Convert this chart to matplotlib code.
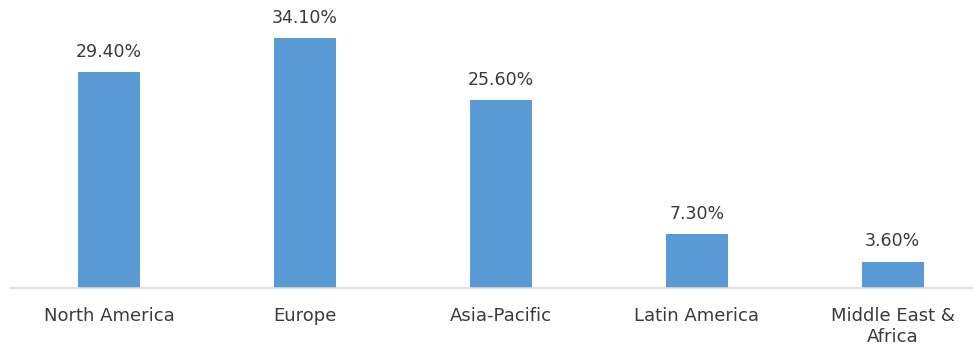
import matplotlib
matplotlib.use("Agg")
import matplotlib.pyplot as plt

regions = ["North America", "Europe", "Asia-Pacific", "Latin America", "Middle East &\nAfrica"]
shares = [29.4, 34.1, 25.6, 7.3, 3.6]

BAR_COLOR = "#5B9BD5"
TEXT_COLOR = "#3A3A3A"

fig = plt.figure(figsize=(9.73, 3.47), dpi=100)
ax = fig.add_axes([10 / 973, 59 / 347, 963 / 973, 278.6 / 347])

x = list(range(len(regions)))
bars = ax.bar(x, shares, width=0.316, color=BAR_COLOR, zorder=2)

for rect, v in zip(bars, shares):
    ax.annotate(f"{v:.2f}%", (rect.get_x() + rect.get_width() / 2, rect.get_height()),
                xytext=(0, 8), textcoords="offset points", ha="center", va="bottom",
                fontsize=12.5, color=TEXT_COLOR)

ax.set_xlim(-0.505, 4.41)
ax.set_ylim(0, 38)
ax.set_xticks(x)
ax.set_xticklabels(regions, fontsize=13, color=TEXT_COLOR, linespacing=1.15)
ax.tick_params(axis="x", length=0, pad=14)
ax.set_yticks([])

for side in ["top", "right", "left"]:
    ax.spines[side].set_visible(False)
ax.spines["bottom"].set_color("#D9D9D9")
ax.spines["bottom"].set_linewidth(1.2)

fig.savefig("out.png", dpi=100)
